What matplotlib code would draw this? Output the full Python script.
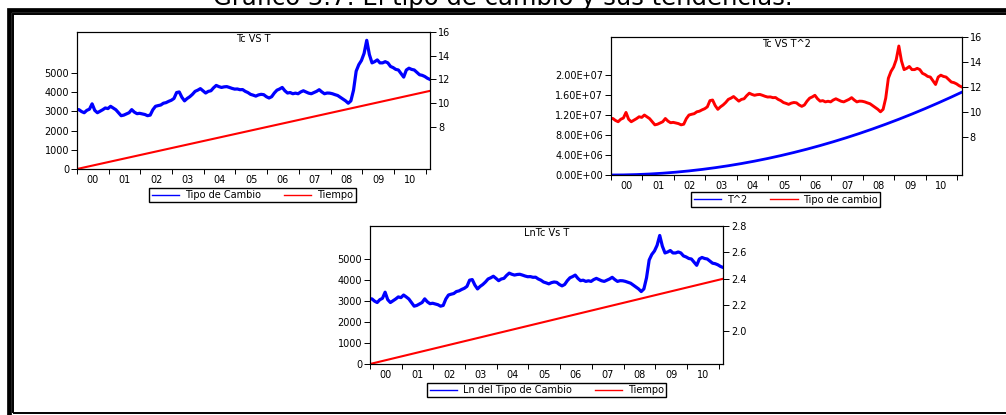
import numpy as np
import matplotlib
matplotlib.use("Agg")
import matplotlib.pyplot as plt
from matplotlib.patches import Rectangle
from matplotlib.lines import Line2D

plt.rcParams['font.family'] = ['DejaVu Sans']
plt.rcParams['font.size'] = 7

# tipo de cambio peso/dolar, lectura mensual (primer dato al inicio de 2000)
tc_inicio = 9.46
tc_2000 = [9.46, 9.30, 9.20, 9.40, 9.50, 9.95, 9.40, 9.20, 9.32, 9.45, 9.60, 9.55]
tc_2001 = [9.74, 9.60, 9.45, 9.20, 8.95, 9.00, 9.10, 9.20, 9.46, 9.25, 9.12, 9.15]
tc_2002 = [9.10, 9.05, 8.95, 9.00, 9.45, 9.74, 9.80, 9.85, 10.00, 10.05, 10.16, 10.25]
tc_2003 = [10.40, 10.90, 10.95, 10.50, 10.20, 10.40, 10.55, 10.75, 11.00, 11.10, 11.23, 11.05]
tc_2004 = [10.86, 11.00, 11.05, 11.30, 11.50, 11.40, 11.33, 11.38, 11.40, 11.33, 11.25, 11.19]
tc_2005 = [11.20, 11.14, 11.15, 11.00, 10.90, 10.75, 10.68, 10.60, 10.70, 10.75, 10.72, 10.55]
tc_2006 = [10.44, 10.55, 10.86, 11.10, 11.20, 11.33, 11.05, 10.86, 10.90, 10.80, 10.85, 10.80]
tc_2007 = [10.95, 11.05, 10.95, 10.85, 10.80, 10.90, 11.00, 11.14, 10.95, 10.80, 10.86, 10.85]
tc_2008 = [10.80, 10.72, 10.65, 10.50, 10.35, 10.20, 10.00, 10.20, 11.10, 12.70, 13.25, 13.60]
tc_2009 = [14.20, 15.30, 14.10, 13.40, 13.50, 13.65, 13.40, 13.40, 13.50, 13.40, 13.10, 13.00]
tc_2010 = [12.85, 12.80, 12.50, 12.20, 12.80, 12.95, 12.85, 12.80, 12.60, 12.40, 12.35, 12.25]
tc_2011 = [12.10, 12.00]

tc = np.array([tc_inicio] + tc_2000 + tc_2001 + tc_2002 + tc_2003 + tc_2004 + tc_2005
              + tc_2006 + tc_2007 + tc_2008 + tc_2009 + tc_2010 + tc_2011)

# fechas en años decimales
t = np.concatenate([[2000.0], 2000.06 + np.arange(len(tc) - 1) / 12])
x_ini, x_fin = 2000.0, 2011.14

# variables de tendencia
tiempo = (t - 2000.0) * 365.25
t2 = tiempo ** 2
ln_tc = np.log(tc)

years = np.arange(2000, 2012)
year_labels = ['00', '01', '02', '03', '04', '05', '06', '07', '08', '09', '10']

BLUE = '#0000FF'
RED = '#FF0000'

W, H = 1006, 415
fig = plt.figure(figsize=(W / 100, H / 100), dpi=100)


def px_rect(x0, y0, x1, y1):
    return [x0 / W, 1 - y1 / H, (x1 - x0) / W, (y1 - y0) / H]


def make_panel(rect, title):
    ax = fig.add_axes(rect)
    ax2 = ax.twinx()
    for a in (ax, ax2):
        for s in a.spines.values():
            s.set_linewidth(0.8)
        a.set_xlim(x_ini, x_fin)
    ax.set_xticks(years)
    ax.set_xticklabels([])
    ax.set_xticks(years[:-1] + 0.5, year_labels, minor=True)
    ax.tick_params(axis='x', which='major', direction='out', length=3.6, width=0.7)
    ax.tick_params(axis='x', which='minor', length=0, pad=4.3)
    ax.tick_params(axis='y', direction='out', length=4.2, width=0.7, pad=1.5)
    ax2.tick_params(axis='y', direction='out', length=4.2, width=0.7, pad=1.5)
    ax2.text(0.5, 0.985, title, transform=ax.transAxes, ha='center', va='top')
    return ax, ax2


def add_legend(labels, cx, cy):
    handles = [Line2D([], [], color=BLUE, lw=1.0), Line2D([], [], color=RED, lw=1.0)]
    leg = fig.legend(handles, labels, loc='center', bbox_to_anchor=(cx / W, 1 - cy / H),
                     ncol=2, frameon=True, fancybox=False, edgecolor='black', framealpha=1,
                     handlelength=2.8, handletextpad=0.6, columnspacing=2.4,
                     borderpad=0.25, borderaxespad=0)
    leg.get_frame().set_linewidth(1.0)


# Tc VS T
ax, ax2 = make_panel(px_rect(77, 32, 430, 169), 'Tc VS T')
ax.plot(t, tiempo, color=RED, lw=1.5)
ax2.plot(t, tc, color=BLUE, lw=2.3)
ax.set_ylim(0, 7135)
ax.set_yticks([0, 1000, 2000, 3000, 4000, 5000])
ax2.set_ylim(4.46, 16)
ax2.set_yticks([8, 10, 12, 14, 16])
add_legend(['Tipo de Cambio', 'Tiempo'], 252.6, 195)

# Tc VS T^2
ax, ax2 = make_panel(px_rect(611, 36.7, 961.7, 175), 'Tc VS T^2')
ax.plot(t, t2, color=BLUE, lw=2.0)
ax2.plot(t, tc, color=RED, lw=2.1)
ax.set_ylim(0, 2.766e7)
ax.set_yticks([0, 4e6, 8e6, 1.2e7, 1.6e7, 2e7])
ax.set_yticklabels(['0.00E+00', '4.00E+06', '8.00E+06', '1.20E+07', '1.60E+07', '2.00E+07'])
ax2.set_ylim(4.91, 16.05)
ax2.set_yticks([8, 10, 12, 14, 16])
add_legend(['T^2', 'Tipo de cambio'], 785.8, 199.7)

# LnTc Vs T
ax, ax2 = make_panel(px_rect(370, 225.7, 723, 364), 'LnTc Vs T')
ax.plot(t, tiempo, color=RED, lw=1.5)
ax2.plot(t, ln_tc, color=BLUE, lw=2.3)
ax.set_ylim(0, 6605)
ax.set_yticks([0, 1000, 2000, 3000, 4000, 5000])
ax2.set_ylim(1.753, 2.802)
ax2.set_yticks([2.0, 2.2, 2.4, 2.6, 2.8])
ax2.set_yticklabels(['2.0', '2.2', '2.4', '2.6', '2.8'])
add_legend(['Ln del Tipo de Cambio', 'Tiempo'], 546.9, 390)

# marco doble alrededor de la figura
fig.add_artist(Rectangle((8.5 / W, 1 - 440 / H), (1040 - 8.5) / W, (440 - 9.5) / H,
                         transform=fig.transFigure, fill=False, lw=3.4, ec='black'))
fig.add_artist(Rectangle((13.3 / W, 1 - 413.3 / H), (1040 - 13.3) / W, (413.3 - 14.3) / H,
                         transform=fig.transFigure, fill=False, lw=1.4, ec='black'))

fig.text(0.5, 1 - 4.5 / H, 'Gráfico 3.7: El tipo de cambio y sus tendencias.',
         ha='center', va='baseline', fontsize=17.5)

fig.savefig('out.png', dpi=100)
